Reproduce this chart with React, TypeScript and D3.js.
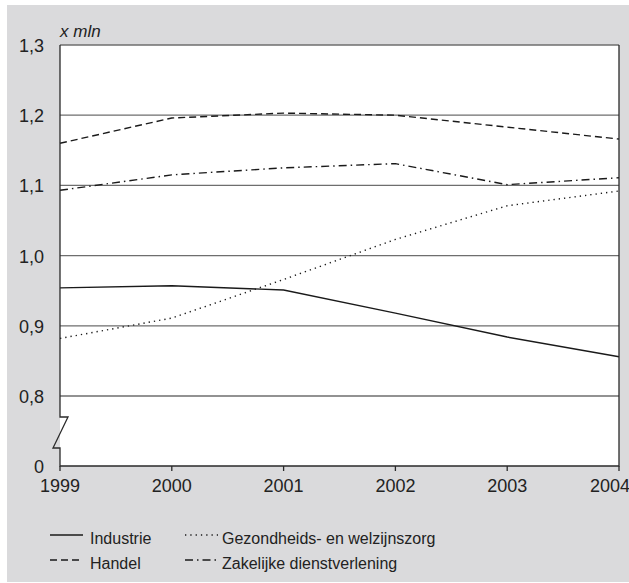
import React, { useEffect, useRef } from 'react';
import * as d3 from 'd3';

const years = [1999, 2000, 2001, 2002, 2003, 2004];
const industrie = [0.954, 0.957, 0.951, 0.918, 0.884, 0.856];
const handel = [1.16, 1.196, 1.203, 1.2, 1.183, 1.166];
const gezondheid = [0.882, 0.911, 0.966, 1.023, 1.071, 1.092];
const zakelijk = [1.093, 1.115, 1.125, 1.131, 1.101, 1.111];
const yTicks = [0, 0.8, 0.9, 1.0, 1.1, 1.2, 1.3];
const gridTicks = [0.8, 0.9, 1.0, 1.1, 1.2, 1.3];

interface Serie {
    name: string;
    values: number[];
    dash: string;
}

// order = legend order: column 1 (Industrie, Handel), column 2 (rest)
const series: Serie[] = [
    { name: 'Industrie', values: industrie, dash: '' },
    { name: 'Handel', values: handel, dash: '7,4' },
    { name: 'Gezondheids- en welzijnszorg', values: gezondheid, dash: '1.3,4' },
    { name: 'Zakelijke dienstverlening', values: zakelijk, dash: '8,4,1.5,4' },
];

const W = 629;
const H = 583;
const FONT = '"Liberation Sans", Arial, sans-serif';

const App: React.FC = () => {
    const svgRef = useRef<SVGSVGElement | null>(null);

    useEffect(() => {
        if (svgRef.current) draw();
    }, []);

    const draw = () => {
        const svg = d3.select(svgRef.current);
        svg.selectAll('*').remove();

        const left = 60, right = 619, top = 45, bottom = 466;

        // broken axis: 0 at the bottom, 0.8 .. 1.3 above
        const x = d3.scaleLinear().domain([1999, 2004]).range([left, right]);
        const y = d3.scaleLinear().domain([0, 0.8, 1.3]).range([bottom, 396, top]);

        svg.append('rect').attr('x', 7).attr('y', 5).attr('width', W - 7).attr('height', 577).attr('fill', '#dadadc');
        svg.append('rect').attr('x', left).attr('y', top).attr('width', right - left).attr('height', bottom - top).attr('fill', '#fff');

        svg.append('g')
            .selectAll('line')
            .data(gridTicks)
            .enter()
            .append('line')
            .attr('x1', left)
            .attr('x2', right)
            .attr('y1', (d) => y(d))
            .attr('y2', (d) => y(d))
            .attr('stroke', '#6e6e6e')
            .attr('stroke-width', 1.3);

        const line = d3
            .line<number>()
            .x((d, i) => x(years[i]))
            .y((d) => y(d));

        svg.append('g')
            .selectAll('path')
            .data(series)
            .enter()
            .append('path')
            .attr('d', (s) => line(s.values))
            .attr('fill', 'none')
            .attr('stroke', '#1a1a1a')
            .attr('stroke-width', 1.4)
            .attr('stroke-dasharray', (s) => s.dash);

        // frame + axes
        const axisCol = '#2a2a2a';
        const bTop = y(0.8) + 21;
        const bBot = y(0) - 18;
        svg.append('path')
            .attr('d', `M${left},${top}V${bTop}H${left + 8}L${left - 7},${bBot}H${left}V${bottom}H${right}V${top}`)
            .attr('fill', 'none')
            .attr('stroke', axisCol)
            .attr('stroke-width', 1.3);

        svg.append('g')
            .selectAll('line')
            .data(years)
            .enter()
            .append('line')
            .attr('x1', (d) => x(d))
            .attr('x2', (d) => x(d))
            .attr('y1', bottom)
            .attr('y2', bottom + 5)
            .attr('stroke', axisCol)
            .attr('stroke-width', 1.3);

        svg.append('g')
            .selectAll('text')
            .data(years)
            .enter()
            .append('text')
            .attr('x', (d, i) => x(d) + (i === years.length - 1 ? -9 : 0))
            .attr('y', 492)
            .attr('text-anchor', 'middle')
            .style('font-family', FONT)
            .style('font-size', '18px')
            .attr('fill', '#222')
            .text((d) => d);

        svg.append('g')
            .selectAll('text')
            .data(yTicks)
            .enter()
            .append('text')
            .attr('x', 44)
            .attr('y', (d) => y(d) + 7)
            .attr('text-anchor', 'end')
            .style('font-family', FONT)
            .style('font-size', '18px')
            .attr('fill', '#222')
            .text((d) => (d === 0 ? '0' : d.toFixed(1).replace('.', ',')));

        svg.append('text')
            .attr('x', left)
            .attr('y', 37)
            .style('font-family', FONT)
            .style('font-size', '17px')
            .style('font-style', 'italic')
            .attr('fill', '#222')
            .text('x mln');

        // legend
        const lg = svg.append('g');
        series.forEach((s, idx) => {
            const col = Math.floor(idx / 2);
            const row = idx % 2;
            const lx = col === 0 ? 50 : 185;
            const ly = 535 + row * 25;
            lg.append('line')
                .attr('x1', lx)
                .attr('x2', lx + 33)
                .attr('y1', ly)
                .attr('y2', ly)
                .attr('stroke', '#1a1a1a')
                .attr('stroke-width', 1.4)
                .attr('stroke-dasharray', s.dash);
            lg.append('text')
                .attr('x', lx + (col === 0 ? 40 : 37))
                .attr('y', ly + 9)
                .style('font-family', FONT)
                .style('font-size', '16px')
                .attr('fill', '#222')
                .text(s.name);
        });
    };

    return (
        <svg
            ref={svgRef}
            width={W}
            height={H}
            style={{ position: 'absolute', left: 0, top: 0, background: '#fff' }}
        ></svg>
    );
};

export default App;
